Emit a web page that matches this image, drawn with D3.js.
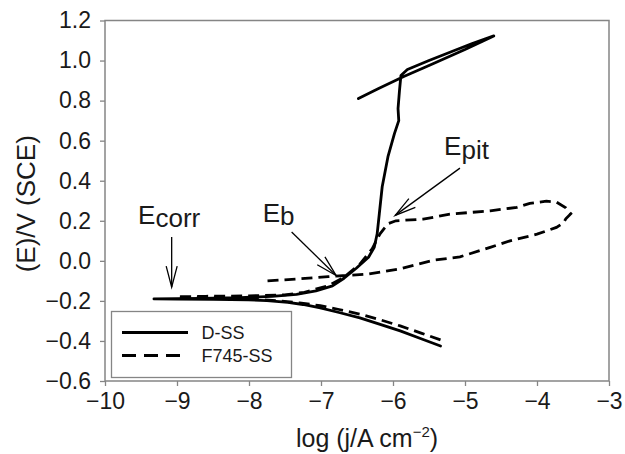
<!DOCTYPE html>
<html>
<head>
<meta charset="utf-8">
<script src="https://cdn.jsdelivr.net/npm/d3@7"></script>
<style>
  body { margin: 0; background: #fff; }
  svg text { font-family: "Liberation Sans", Arial, sans-serif; fill: #1a1a1a; }
</style>
</head>
<body>
<svg id="chart" width="625" height="454"></svg>
<script>
// D-SS polarization scan: cathodic end -> Ecorr -> anodic -> reverse (log j, E)
const dss = [
  [-5.34, -0.425], [-5.6, -0.39], [-5.9, -0.35], [-6.2, -0.315], [-6.46, -0.285],
  [-6.75, -0.258], [-7.01, -0.235], [-7.25, -0.218], [-7.46, -0.207], [-7.75, -0.199],
  [-8.01, -0.195], [-8.5, -0.192], [-9.0, -0.191], [-9.32, -0.19],
  [-9.0, -0.189], [-8.68, -0.188], [-8.12, -0.184], [-7.68, -0.177], [-7.34, -0.167],
  [-7.07, -0.15], [-6.84, -0.125], [-6.68, -0.087], [-6.51, -0.037], [-6.34, 0.018],
  [-6.26, 0.068], [-6.22, 0.135], [-6.19, 0.235], [-6.15, 0.37], [-6.07, 0.52],
  [-5.98, 0.635], [-5.92, 0.70], [-5.93, 0.76], [-5.91, 0.85], [-5.89, 0.925],
  [-5.8, 0.955], [-5.5, 1.0], [-5.2, 1.043], [-4.9, 1.085], [-4.6, 1.123],
  [-5.0, 1.055], [-5.5, 0.975], [-5.85, 0.92], [-6.2, 0.86], [-6.48, 0.81]
];

// F745-SS polarization scan
const f745 = [
  [-5.34, -0.395], [-5.6, -0.362], [-5.9, -0.325], [-6.2, -0.292], [-6.46, -0.266],
  [-6.75, -0.243], [-7.01, -0.224], [-7.3, -0.21], [-7.57, -0.2], [-7.85, -0.193],
  [-8.12, -0.189], [-8.6, -0.184], [-9.0, -0.18],
  [-8.6, -0.177], [-8.0, -0.175], [-7.5, -0.17], [-7.23, -0.157], [-6.9, -0.124],
  [-6.68, -0.082], [-6.46, -0.016], [-6.29, 0.06], [-6.18, 0.135], [-6.07, 0.185],
  [-5.96, 0.2], [-5.58, 0.208], [-5.21, 0.233], [-4.65, 0.25], [-4.28, 0.267],
  [-4.1, 0.287], [-3.87, 0.298], [-3.73, 0.293], [-3.6, 0.265], [-3.53, 0.235],
  [-3.6, 0.21], [-3.63, 0.19], [-3.73, 0.167], [-4.0, 0.133], [-4.375, 0.10],
  [-4.65, 0.067], [-5.07, 0.02], [-5.44, 0.003], [-5.9, -0.04], [-6.37, -0.067],
  [-6.9, -0.079], [-7.3, -0.09], [-7.75, -0.1]
];

const xTicks = [-10, -9, -8, -7, -6, -5, -4, -3];
const yTicks = [-0.6, -0.4, -0.2, 0.0, 0.2, 0.4, 0.6, 0.8, 1.0, 1.2];
const seriesNames = ["D-SS", "F745-SS"];

// annotations: label, label anchor, arrow start, arrow tip (data units)
const notes = [
  { main: "E", sub: "corr", at: [-9.54, 0.186], from: [-9.074, 0.119], to: [-9.074, -0.131] },
  { main: "E", sub: "b",    at: [-7.81, 0.194], from: [-7.408, 0.144], to: [-6.79, -0.073] },
  { main: "E", sub: "pit",  at: [-5.29, 0.527], from: [-5.07, 0.463],  to: [-5.97, 0.227] }
];

const svg = d3.select("#chart");
const m = { left: 105, top: 20.5, right: 16, bottom: 73 };
const W = 625, H = 454;

const x = d3.scaleLinear().domain([-10, -3]).range([m.left, W - m.right]);
const y = d3.scaleLinear().domain([-0.6, 1.2]).range([H - m.bottom, m.top]);

const frameCol = "#858585";

// axes
const gx = svg.append("g")
  .attr("transform", `translate(0,${H - m.bottom})`)
  .call(d3.axisBottom(x).tickValues(xTicks).tickFormat(d3.format("d"))
    .tickSize(5).tickSizeOuter(0).tickPadding(7));
const gy = svg.append("g")
  .attr("transform", `translate(${m.left},0)`)
  .call(d3.axisLeft(y).tickValues(yTicks).tickFormat(d3.format(".1f"))
    .tickSize(5).tickSizeOuter(0).tickPadding(9));

[gx, gy].forEach(g => {
  g.select(".domain").remove();
  g.selectAll(".tick line").attr("stroke", frameCol).attr("stroke-width", 1.3);
  g.selectAll(".tick text").style("font-size", "23px").attr("fill", "#1a1a1a");
});

// frame
svg.append("rect")
  .attr("x", x(-10)).attr("y", y(1.2))
  .attr("width", x(-3) - x(-10)).attr("height", y(-0.6) - y(1.2))
  .attr("fill", "none").attr("stroke", frameCol).attr("stroke-width", 1.5);

// axis titles
svg.append("text")
  .attr("transform", `translate(35,${(y(1.2) + y(-0.6)) / 2 + 3}) rotate(-90)`)
  .attr("text-anchor", "middle")
  .style("font-size", "26px")
  .text("(E)/V (SCE)");

const xl = svg.append("text")
  .attr("x", (x(-10) + x(-3)) / 2 + 10).attr("y", 447)
  .attr("text-anchor", "middle")
  .style("font-size", "25px");
xl.append("tspan").text("log (j/A cm");
xl.append("tspan").attr("dy", -10).style("font-size", "15px").text("\u22122");
xl.append("tspan").attr("dy", 10).text(")");

// curves
const line = d3.line().x(d => x(d[0])).y(d => y(d[1])).curve(d3.curveLinear);

svg.append("path").datum(dss)
  .attr("d", line).attr("fill", "none")
  .attr("stroke", "#000").attr("stroke-width", 2.8)
  .attr("stroke-linejoin", "round").attr("stroke-linecap", "round");

svg.append("path").datum(f745)
  .attr("d", line).attr("fill", "none")
  .attr("stroke", "#000").attr("stroke-width", 2.8)
  .attr("stroke-dasharray", "11,6");

// annotations
notes.forEach(n => {
  const t = svg.append("text")
    .attr("x", x(n.at[0])).attr("y", y(n.at[1]))
    .style("font-size", "26px");
  t.append("tspan").text(n.main);
  t.append("tspan").attr("dy", 3.5).text(n.sub);

  const x0 = x(n.from[0]), y0 = y(n.from[1]), x1 = x(n.to[0]), y1 = y(n.to[1]);
  svg.append("line")
    .attr("x1", x0).attr("y1", y0).attr("x2", x1).attr("y2", y1)
    .attr("stroke", "#000").attr("stroke-width", 1.3);
  const a = Math.atan2(y1 - y0, x1 - x0), len = 21, hw = 5.5;
  const bx = x1 - len * Math.cos(a), by = y1 - len * Math.sin(a);
  const px = -Math.sin(a) * hw, py = Math.cos(a) * hw;
  svg.append("path")
    .attr("d", `M${bx + px},${by + py}L${x1},${y1}L${bx - px},${by - py}`)
    .attr("fill", "none").attr("stroke", "#000").attr("stroke-width", 1.3);
});

// legend
const lg = svg.append("g");
lg.append("rect")
  .attr("x", 111.5).attr("y", 311.5).attr("width", 180).attr("height", 66)
  .attr("fill", "#fff").attr("stroke", frameCol).attr("stroke-width", 1.3);
seriesNames.forEach((name, i) => {
  const yy = 332.5 + i * 23;
  lg.append("line")
    .attr("x1", 122).attr("x2", 188).attr("y1", yy).attr("y2", yy)
    .attr("stroke", "#000").attr("stroke-width", 2.8)
    .attr("stroke-dasharray", i === 1 ? "14,8" : null);
  lg.append("text")
    .attr("x", 201.5).attr("y", yy + 6.3)
    .style("font-size", "18px")
    .text(name);
});
</script>
</body>
</html>
